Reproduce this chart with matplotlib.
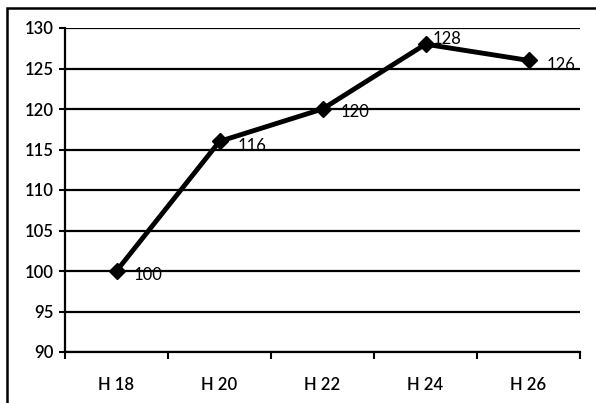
import matplotlib
matplotlib.use("Agg")
import matplotlib.pyplot as plt
from matplotlib.patches import Rectangle

categories = ["H 18", "H 20", "H 22", "H 24", "H 26"]
values = [100, 116, 120, 128, 126]
y_ticks = [90, 95, 100, 105, 110, 115, 120, 125, 130]

plt.rcParams['font.family'] = ['Lato', 'DejaVu Sans']

fig = plt.figure(figsize=(5.96, 4.03), dpi=100)
fig.patches.append(Rectangle((7/596, -0.05), 1.0, 1 - 8/403 + 0.05,
                             transform=fig.transFigure, fill=False,
                             edgecolor='black', linewidth=1.8))
ax = fig.add_axes([65/596, 1 - 352/403, (580 - 65)/596, (352 - 28)/403])

x = list(range(len(categories)))
ax.plot(x, values, color='black', linewidth=3.5, marker='D', markersize=8, zorder=3)
offsets = [(12, -3), (13, -3), (13, -2), (5, 4), (13, -3)]
for xi, v, off in zip(x, values, offsets):
    ax.annotate(str(v), (xi, v), xytext=off, textcoords='offset points',
                ha='left', va='center', fontsize=12)

ax.set_xlim(-0.5, len(categories) - 0.5)
ax.set_ylim(90, 130)
ax.set_yticks(y_ticks)
ax.set_yticklabels([str(t) for t in y_ticks], fontsize=12, fontweight='semibold')
ax.yaxis.grid(True, color='black', linewidth=1.6)
ax.set_axisbelow(True)

ax.set_xticks(x)
ax.set_xticklabels(categories, fontsize=12, fontweight='semibold')
ax.tick_params(axis='x', which='major', length=0, pad=18)
ax.set_xticks([i + 0.5 for i in range(-1, len(categories))], minor=True)
ax.tick_params(axis='x', which='minor', length=5, width=1.5, direction='out')
ax.tick_params(axis='y', length=4, width=1.5, pad=4)

for s in ['top', 'right']:
    ax.spines[s].set_visible(False)
ax.spines['left'].set_linewidth(1.6)
ax.spines['bottom'].set_linewidth(1.6)

fig.savefig("out.png", dpi=100)
